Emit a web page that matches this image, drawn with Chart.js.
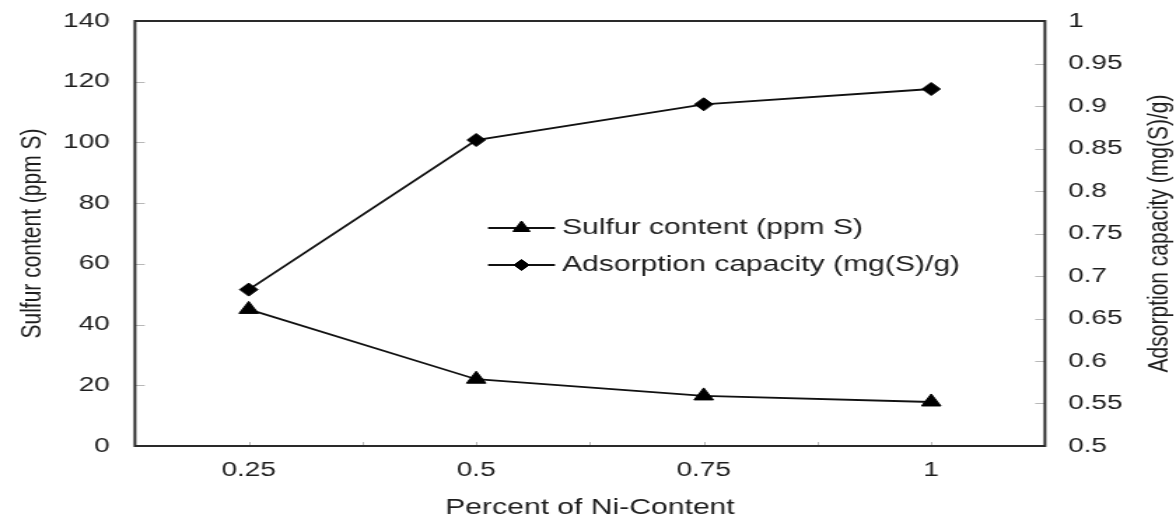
<!DOCTYPE html>
<html>
<head>
<meta charset="utf-8">
<script src="https://cdn.jsdelivr.net/npm/chart.js@4/dist/chart.umd.min.js"></script>
<style>
  html, body { margin: 0; padding: 0; background: #fff; }
</style>
</head>
<body>
<canvas id="c" width="840" height="527" style="display:block;width:1176px;height:527px"></canvas>
<script>
// Ni loading (%) of the adsorbent
const niContent = [0.25, 0.5, 0.75, 1];
// Residual sulfur in the treated fuel, ppm S
const sulfurContent = [45, 22, 16.5, 14.5];
// Adsorption capacity, mg(S)/g
const adsorptionCapacity = [0.684, 0.86, 0.902, 0.92];

const seriesNames = ['Sulfur content (ppm S)', 'Adsorption capacity (mg(S)/g)'];
const xTickLabels = ['0.25', '0.5', '0.75', '1'];
const leftTicks = [0, 20, 40, 60, 80, 100, 120, 140];
const rightTicks = ['0.5', '0.55', '0.6', '0.65', '0.7', '0.75', '0.8', '0.85', '0.9', '0.95', '1'];

const FONT = '"Liberation Sans", Arial, Helvetica, sans-serif';
const INK = '#1e1e1e';

const toPoints = (ys) => niContent.map((x, i) => ({ x, y: ys[i] }));

// Frame around the plot plus short inward tick marks
const framePlugin = {
  id: 'frame',
  afterDatasetsDraw(chart) {
    const { ctx, chartArea: a, scales } = chart;
    ctx.save();
    ctx.strokeStyle = '#b8b8b8';
    ctx.lineWidth = 1;
    ctx.beginPath();
    scales.y.ticks.forEach(t => {
      const py = Math.round(scales.y.getPixelForValue(t.value)) + 0.5;
      if (t.value > scales.y.min && t.value < scales.y.max) {
        ctx.moveTo(a.left, py); ctx.lineTo(a.left + 7, py);
      }
    });
    scales.y1.ticks.forEach(t => {
      const py = Math.round(scales.y1.getPixelForValue(t.value)) + 0.5;
      if (t.value > scales.y1.min + 1e-9 && t.value < scales.y1.max - 1e-9) {
        ctx.moveTo(a.right, py); ctx.lineTo(a.right - 7, py);
      }
    });
    scales.x.ticks.forEach(t => {
      const px = Math.round(scales.x.getPixelForValue(t.value)) + 0.5;
      if (t.value > scales.x.min + 1e-9 && t.value < scales.x.max - 1e-9) {
        ctx.moveTo(px, a.bottom); ctx.lineTo(px, a.bottom - 4);
      }
    });
    ctx.stroke();
    ctx.strokeStyle = '#2a2a2a';
    ctx.lineWidth = 2;
    ctx.strokeRect(a.left, a.top, a.right - a.left, a.bottom - a.top);
    ctx.restore();
  }
};

// Legend drawn inside the plot, line sample with its marker
const insideLegend = {
  id: 'insideLegend',
  afterDraw(chart, args, opts) {
    const { ctx } = chart;
    ctx.save();
    chart.data.datasets.forEach((ds, i) => {
      const y = opts.rows[i];
      ctx.strokeStyle = ds.borderColor;
      ctx.lineWidth = ds.borderWidth;
      ctx.beginPath();
      ctx.moveTo(opts.x0, y); ctx.lineTo(opts.x1, y);
      ctx.stroke();
      ctx.fillStyle = ds.pointBackgroundColor;
      ctx.strokeStyle = ds.pointBorderColor;
      ctx.lineWidth = 1;
      Chart.helpers.drawPoint(ctx, {
        pointStyle: ds.pointStyle,
        radius: ds.pointRadius - 1,
        rotation: 0,
        borderWidth: 1
      }, (opts.x0 + opts.x1) / 2, y);
      ctx.fillStyle = INK;
      ctx.font = opts.font;
      ctx.textAlign = 'left';
      ctx.textBaseline = 'middle';
      ctx.fillText(ds.label, opts.x1 + 5, y);
    });
    ctx.restore();
  }
};

// Right axis title, reading bottom to top
const rightTitle = {
  id: 'rightTitle',
  afterDraw(chart, args, opts) {
    const { ctx, chartArea: a } = chart;
    ctx.save();
    ctx.translate(opts.x, (a.top + a.bottom) / 2);
    ctx.rotate(-Math.PI / 2);
    ctx.fillStyle = INK;
    ctx.font = opts.font;
    ctx.textAlign = 'center';
    ctx.textBaseline = 'middle';
    ctx.fillText(opts.text, 0, 0);
    ctx.restore();
  }
};

// Vertical axes: no extra room above/below for the end labels
const flushVertical = (width) => (s) => {
  s.width = width;
  s.paddingTop = 0;
  s.paddingBottom = 0;
};

new Chart(document.getElementById('c'), {
  type: 'line',
  data: {
    datasets: [
      {
        label: seriesNames[0],
        data: toPoints(sulfurContent),
        yAxisID: 'y',
        borderColor: '#111',
        borderWidth: 1.8,
        pointStyle: 'triangle',
        pointRadius: 8,
        pointBackgroundColor: '#000',
        pointBorderColor: '#000',
        pointBorderWidth: 1,
        tension: 0
      },
      {
        label: seriesNames[1],
        data: toPoints(adsorptionCapacity),
        yAxisID: 'y1',
        borderColor: '#111',
        borderWidth: 1.8,
        pointStyle: 'rectRot',
        pointRadius: 6.5,
        pointBackgroundColor: '#000',
        pointBorderColor: '#000',
        pointBorderWidth: 1,
        tension: 0
      }
    ]
  },
  options: {
    responsive: false,
    devicePixelRatio: 1,
    animation: false,
    layout: { padding: { top: 21, left: 0, right: 0, bottom: 0 } },
    plugins: {
      legend: { display: false },
      tooltip: { enabled: false },
      insideLegend: { x0: 348.6, x1: 396.4, rows: [228, 265], font: '21.5px ' + FONT },
      rightTitle: { x: 828.6, text: 'Adsorption capacity (mg(S)/g)', font: '21px ' + FONT }
    },
    scales: {
      x: {
        type: 'linear',
        position: 'bottom',
        min: 0.125,
        max: 1.125,
        afterFit(s) { s.height = 81; s.paddingLeft = 0; s.paddingRight = 0; },
        ticks: {
          stepSize: 0.125,
          autoSkip: false,
          maxRotation: 0,
          padding: 12,
          color: INK,
          font: { family: FONT, size: 20 },
          callback: (v) => {
            const i = niContent.findIndex(n => Math.abs(n - v) < 1e-6);
            return i >= 0 ? xTickLabels[i] : '';
          }
        },
        grid: { display: false, drawTicks: false },
        border: { display: false },
        title: {
          display: true,
          text: 'Percent of Ni-Content',
          color: INK,
          font: { family: FONT, size: 21.5, lineHeight: 1 },
          padding: { top: 0, bottom: 8 }
        }
      },
      y: {
        position: 'left',
        min: 0,
        max: 140,
        afterFit: flushVertical(96.4),
        afterBuildTicks(s) { s.ticks = leftTicks.map(v => ({ value: v })); },
        ticks: {
          padding: 18,
          color: INK,
          font: { family: FONT, size: 20 },
          callback: (v) => String(v)
        },
        grid: { display: false, drawTicks: false },
        border: { display: false },
        title: {
          display: true,
          text: 'Sulfur content (ppm S)',
          color: INK,
          font: { family: FONT, size: 21, lineHeight: 1 },
          padding: { top: 12.5, bottom: 0 }
        }
      },
      y1: {
        position: 'right',
        min: 0.5,
        max: 1,
        afterFit: flushVertical(93.6),
        afterBuildTicks(s) { s.ticks = rightTicks.map(t => ({ value: parseFloat(t) })); },
        ticks: {
          padding: 16.5,
          color: INK,
          font: { family: FONT, size: 20 },
          callback: (v) => {
            const i = rightTicks.findIndex(t => Math.abs(parseFloat(t) - v) < 1e-6);
            return i >= 0 ? rightTicks[i] : '';
          }
        },
        grid: { display: false, drawTicks: false },
        border: { display: false },
        title: { display: false }
      }
    }
  },
  plugins: [framePlugin, insideLegend, rightTitle]
});
</script>
</body>
</html>
